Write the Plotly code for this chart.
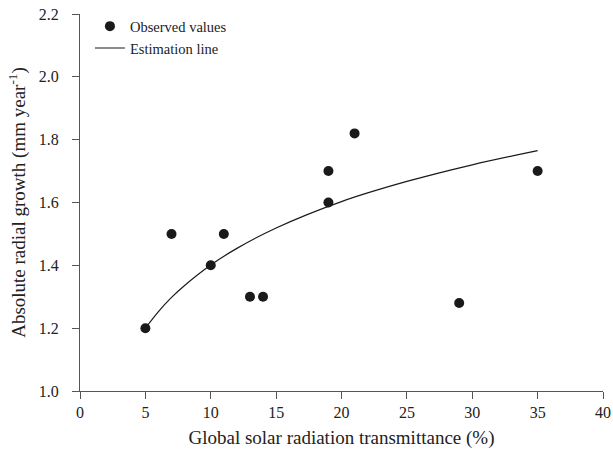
import plotly.graph_objects as go

# Observed data
obs_x = [5, 7, 10, 11, 13, 14, 19, 19, 21, 29, 35]
obs_y = [1.20, 1.50, 1.40, 1.50, 1.30, 1.30, 1.70, 1.60, 1.82, 1.28, 1.70]

# Estimation line
fit_x = [5, 6, 7, 8, 10, 12, 15, 20, 25, 30, 35]
fit_y = [1.20, 1.253, 1.298, 1.336, 1.401, 1.454, 1.519, 1.603, 1.667, 1.720, 1.765]

x_ticks = [0, 5, 10, 15, 20, 25, 30, 35, 40]
y_ticks = [1.0, 1.2, 1.4, 1.6, 1.8, 2.0, 2.2]

fig = go.Figure()
fig.add_trace(go.Scatter(x=obs_x, y=obs_y, mode="markers", name="Observed values",
                         marker=dict(size=10, color="#1a1a1a")))
fig.add_trace(go.Scatter(x=fit_x, y=fit_y, mode="lines", name="Estimation line",
                         line=dict(color="#1a1a1a", width=1.2, shape="spline")))

axis_common = dict(showline=True, linecolor="#555", linewidth=1.2, ticks="outside",
                   ticklen=7, tickcolor="#555", showgrid=False, zeroline=False,
                   automargin=False, ticklabeloverflow="allow",
                   tickfont=dict(family="Liberation Serif", size=16, color="#222"))

fig.update_layout(
    width=613, height=463,
    margin=dict(l=80, r=10, t=14, b=72),
    plot_bgcolor="white", paper_bgcolor="white",
    font=dict(family="Liberation Serif", color="#222"),
    xaxis=dict(range=[0, 40], tickvals=x_ticks, ticklabelstandoff=0,
               title=dict(text="Global solar radiation transmittance (%)",
                          font=dict(size=19), standoff=10), **axis_common),
    yaxis=dict(range=[1.0, 2.2], tickvals=y_ticks, tickformat=".1f",
               ticklabelstandoff=10,
               title=dict(text="Absolute radial growth (mm year<sup>-1</sup>)",
                          font=dict(size=19), standoff=8), **axis_common),
    legend=dict(x=0.019, y=1.01, xanchor="left", yanchor="top",
                font=dict(family="Liberation Serif", size=14.5, color="#222"),
                bgcolor="rgba(0,0,0,0)", itemwidth=30, tracegroupgap=0),
    showlegend=True,
)

fig.write_html(
    "out.html",
    config={"displayModeBar": False},
    post_script="document.body.style.margin='0';document.body.style.overflow='hidden';"
                "document.documentElement.style.overflow='hidden';",
)
